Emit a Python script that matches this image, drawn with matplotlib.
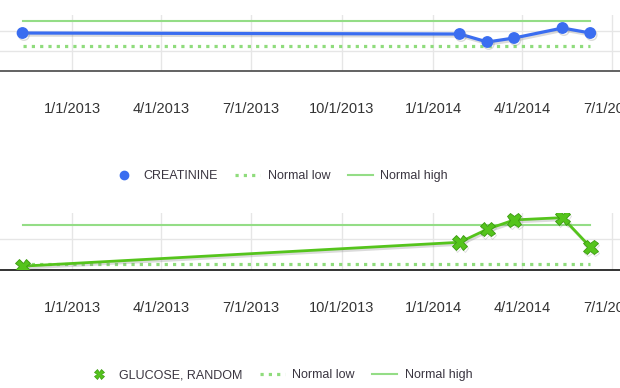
import matplotlib
matplotlib.use("Agg")
import matplotlib.pyplot as plt
import matplotlib.dates as mdates
import matplotlib.patheffects as pe
from matplotlib.lines import Line2D
from matplotlib.ticker import FuncFormatter, FixedLocator
import datetime as dt

plt.rcParams['font.family'] = ['Liberation Sans', 'DejaVu Sans']

# sample dates
dates = ["2012-11-12", "2014-01-28", "2014-02-25", "2014-03-24", "2014-05-12", "2014-06-09"]
creatinine = [0.78, 0.77, 0.69, 0.73, 0.83, 0.78]
creat_low, creat_high = 0.65, 0.90
glucose = [65, 96, 113, 125, 128, 90]
gluc_low, gluc_high = 68, 119
tick_dates = ["2013-01-01", "2013-04-01", "2013-07-01", "2013-10-01",
              "2014-01-01", "2014-04-01", "2014-07-01"]

x = [dt.datetime.strptime(d, "%Y-%m-%d") for d in dates]
ticks = [mdates.date2num(dt.datetime.strptime(d, "%Y-%m-%d")) for d in tick_dates]

W, H = 620, 388
fig = plt.figure(figsize=(W / 100, H / 100), dpi=100)

def fmt(v, pos):
    d = mdates.num2date(v)
    return f"{d.month}/{d.day}/{d.year}"

xmin = mdates.date2num(dt.datetime(2013, 1, 1)) - 72 / 0.989
xmax = mdates.date2num(dt.datetime(2013, 1, 1)) + (620 - 72) / 0.989

shadow = [pe.SimpleLineShadow(offset=(1.0, -1.5), shadow_color='#888888', alpha=0.3), pe.Normal()]
green_norm = '#94dd86'
green_dot = '#8fdc7c'

def panel(top_px, bottom_px, vals, low, high, ylim, yticks, color, marker, ms, axcolor):
    ax = fig.add_axes([0, 1 - bottom_px / H, 1, (bottom_px - top_px) / H])
    ax.plot([x[0], x[-1]], [high, high], color=green_norm, lw=1.5, zorder=2)
    ax.plot([x[0], x[-1]], [low, low], color=green_dot, lw=2.3,
            linestyle=(0, (1, 1.6)), zorder=2)
    if marker == 'o':
        ax.plot(x, vals, color=color, lw=2.3, marker='o', ms=ms,
                path_effects=shadow, zorder=3)
    else:
        ax.plot(x, vals, color=color, lw=2.0, marker='X', ms=ms,
                mec='#3a9a10', mew=0.6, path_effects=shadow, zorder=3)
    ax.set_xlim(xmin, xmax)
    ax.set_ylim(*ylim)
    ax.xaxis.set_major_locator(FixedLocator(ticks))
    ax.xaxis.set_major_formatter(FuncFormatter(fmt))
    ax.set_yticks(yticks)
    ax.tick_params(axis='y', left=False, labelleft=False)
    ax.tick_params(axis='x', length=0, pad=22, labelsize=10.5, labelcolor='#333333')
    ax.grid(True, color='#e6e6e6', lw=1)
    ax.set_axisbelow(True)
    for s in ['top', 'left', 'right']:
        ax.spines[s].set_visible(False)
    ax.spines['bottom'].set_color(axcolor)
    ax.spines['bottom'].set_linewidth(1.3)
    ax.patch.set_alpha(0)
    return ax

panel(15, 71, creatinine, creat_low, creat_high, (0.40, 0.96), [0.6, 0.8],
      '#3a6df0', 'o', 7.5, '#555555')
panel(213, 270, glucose, gluc_low, gluc_high, (60, 134), [100],
      '#55c41c', 'X', 10.5, '#222222')

def legend(y_px, label, handle):
    hs = [handle,
          Line2D([], [], color=green_dot, lw=2.3, linestyle=(0, (1, 1.6))),
          Line2D([], [], color=green_norm, lw=1.5)]
    fig.legend(hs, [label, "Normal low", "Normal high"], loc='center',
               bbox_to_anchor=(0.451, 1 - y_px / H), ncol=3, frameon=False,
               fontsize=9, handlelength=2.0, handletextpad=0.6,
               columnspacing=1.4, labelcolor='#3a3540')

legend(176, "CREATININE", Line2D([], [], color='#3a6df0', marker='o', ms=6, lw=0))
legend(375, "GLUCOSE, RANDOM", Line2D([], [], color='#55c41c', marker='X', ms=7,
                                      mec='#3a9a10', mew=0.5, lw=0))

fig.savefig("out.png", dpi=100)
